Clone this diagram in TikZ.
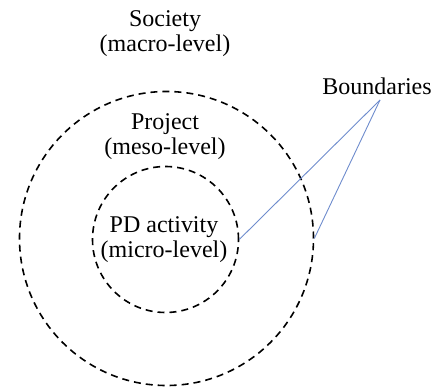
\documentclass[tikz,border=0pt]{standalone}
\usepackage{fontspec}
\setmainfont{Liberation Serif}
\begin{document}
\begin{tikzpicture}[x=1pt,y=-1pt,
  ring/.style={circle, draw=black, line width=1.6pt, dash pattern=on 7pt off 5pt, inner sep=0pt},
  lbl/.style={align=center, inner sep=0pt, font=\fontsize{24}{25}\selectfont},
  pointer/.style={draw={rgb,255:red,110;green,140;blue,205}, line width=0.9pt}]
\useasboundingbox (0,0) rectangle (434,390);
\node[ring, minimum size=294pt] (outer) at (166.5,238.5) {};
\node[ring, minimum size=146pt] (inner) at (165.5,239.5) {};
\node[lbl] (society) at (165,34) {Society\\(macro-level)};
\node[lbl] (project) at (165,137) {Project\\(meso-level)};
\node[lbl] (pd) at (164,240) {PD activity\\(micro-level)};
\node[lbl, anchor=base] (bound) at (377,95) {Boundaries};
\coordinate (tip) at (380,100);
\draw[pointer] (tip) -- (inner.east);
\draw[pointer] (tip) -- (outer.east);
\end{tikzpicture}
\end{document}
